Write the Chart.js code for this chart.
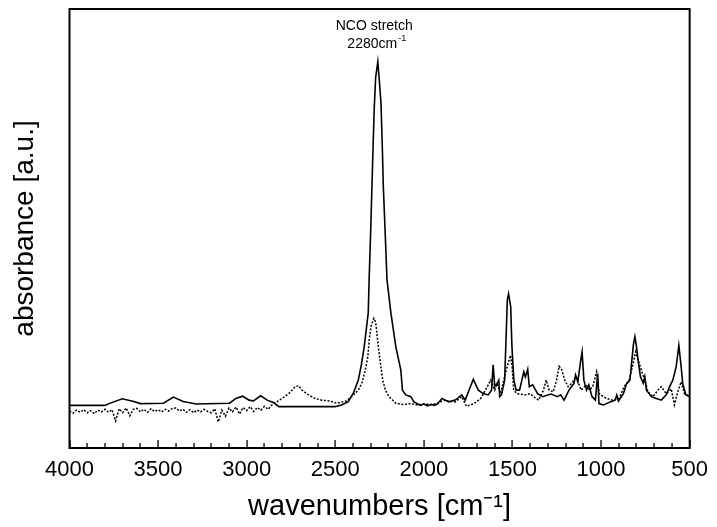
<!DOCTYPE html>
<html>
<head>
<meta charset="utf-8">
<script src="https://cdn.jsdelivr.net/npm/chart.js@4"></script>
<style>
	html, body { margin: 0; padding: 0; background: #fff; }
	#wrap { width: 717px; height: 527px; }
</style>
</head>
<body>
<div id="wrap"><canvas id="ir-chart" width="717" height="527"></canvas></div>
<script>
// wavenumber tick labels on the bottom axis
const majorTicks = [4000, 3500, 3000, 2500, 2000, 1500, 1000, 500];
const minorStep = 100;

// solid trace
const solidWn = [
	4000, 3800, 3777, 3702, 3637, 3600, 3470, 3414, 3358, 3286,
	3097, 3061, 3023, 2986, 2962, 2921, 2884, 2846, 2818, 2502,
	2465, 2428, 2398, 2370, 2353, 2337, 2314, 2309, 2300, 2292,
	2286, 2280, 2272, 2260, 2251, 2242, 2234, 2229, 2219, 2208,
	2186, 2158, 2130, 2121, 2102, 2074, 2056, 2037, 2020, 2000,
	1980, 1960, 1940, 1925, 1897, 1860, 1823, 1786, 1767, 1721,
	1693, 1665, 1637, 1618, 1609, 1600, 1589, 1577, 1572, 1562,
	1544, 1529, 1522, 1510, 1503, 1492, 1479, 1460, 1436, 1427,
	1414, 1405, 1386, 1358, 1330, 1283, 1246, 1228, 1209, 1181,
	1153, 1144, 1131, 1116, 1107, 1097, 1082, 1069, 1051, 1032,
	1019, 1012, 986, 948, 921, 911, 902, 874, 856, 837,
	818, 809, 800, 791, 778, 762, 753, 744, 716, 688,
	660, 632, 613, 595, 576, 561, 548, 539, 521, 502
];
const solidAbs = [
	9.6, 9.6, 10.0, 11.1, 10.5, 10.0, 10.1, 11.5, 10.5, 9.9,
	10.1, 11.2, 11.7, 10.8, 10.6, 11.8, 10.8, 10.2, 9.3, 9.3,
	9.7, 10.4, 12.4, 15.4, 18.9, 23.0, 30.8, 38.4, 49.9, 61.4,
	70.0, 78.0, 85.0, 88.6, 84.0, 79.0, 68.3, 60.0, 49.9, 38.4,
	30.8, 23.0, 17.7, 13.1, 12.0, 11.6, 10.4, 10.0, 9.6, 9.9,
	9.5, 9.8, 9.6, 9.9, 11.2, 10.4, 10.8, 12.0, 10.8, 15.6,
	13.1, 12.3, 12.0, 13.1, 18.9, 13.9, 14.5, 15.4, 11.6, 12.0,
	15.4, 33.8, 35.2, 32.3, 23.1, 15.4, 13.1, 13.1, 17.3, 16.1,
	17.9, 13.9, 14.3, 12.3, 11.6, 12.2, 11.6, 12.0, 10.8, 13.1,
	14.6, 16.6, 15.0, 19.6, 21.9, 15.4, 13.1, 14.3, 11.6, 10.8,
	16.9, 10.0, 9.7, 10.4, 10.8, 12.0, 10.6, 12.3, 14.6, 15.4,
	23.4, 25.4, 23.1, 20.0, 16.2, 14.7, 16.2, 13.1, 11.6, 11.2,
	10.8, 12.0, 13.9, 15.4, 18.5, 23.4, 18.5, 14.6, 12.0, 11.6
];

// dotted trace
const dottedWn = [
	4000, 3980, 3960, 3940, 3920, 3900, 3880, 3860, 3840, 3820,
	3800, 3780, 3760, 3740, 3720, 3700, 3680, 3660, 3640, 3620,
	3600, 3580, 3560, 3540, 3520, 3500, 3480, 3460, 3440, 3420,
	3400, 3380, 3360, 3340, 3320, 3300, 3280, 3260, 3240, 3220,
	3200, 3180, 3160, 3140, 3120, 3100, 3080, 3060, 3040, 3020,
	3000, 2980, 2960, 2940, 2920, 2900, 2880, 2860, 2846, 2800,
	2762, 2726, 2707, 2688, 2651, 2614, 2577, 2530, 2493, 2437,
	2398, 2370, 2348, 2331, 2316, 2309, 2297, 2282, 2272, 2264,
	2257, 2244, 2232, 2217, 2197, 2158, 2120, 2074, 2037, 2000,
	1960, 1925, 1888, 1850, 1823, 1786, 1760, 1716, 1679, 1642,
	1623, 1600, 1586, 1567, 1549, 1530, 1511, 1502, 1493, 1474,
	1428, 1400, 1381, 1353, 1325, 1310, 1293, 1270, 1251, 1237,
	1223, 1205, 1186, 1167, 1140, 1112, 1084, 1065, 1047, 1025,
	1010, 972, 935, 898, 870, 842, 823, 805, 790, 770,
	753, 735, 707, 679, 660, 632, 604, 586, 567, 548,
	530, 511, 500
];
const dottedAbs = [
	8.3, 7.8, 8.5, 8.0, 8.6, 7.9, 8.4, 7.7, 8.5, 8.1,
	8.7, 8.0, 8.6, 6.0, 8.8, 7.9, 9.0, 7.2, 8.7, 8.9,
	8.1, 8.7, 8.0, 8.8, 8.2, 8.6, 8.1, 8.7, 8.3, 8.9,
	9.0, 8.3, 8.7, 8.0, 8.6, 7.9, 8.5, 8.1, 8.7, 8.2,
	7.9, 8.8, 5.8, 8.5, 7.1, 9.0, 8.1, 9.2, 7.6, 9.1,
	8.4, 9.3, 8.2, 9.1, 8.5, 9.4, 8.7, 9.6, 10.0, 11.2,
	12.3, 13.9, 14.1, 13.1, 12.0, 11.2, 10.8, 10.6, 10.1, 10.6,
	12.0, 13.1, 14.9, 17.7, 20.8, 24.6, 28.0, 29.6, 28.7, 25.7,
	23.1, 18.9, 15.4, 13.1, 11.6, 10.1, 9.8, 10.0, 9.7, 9.9,
	9.8, 10.0, 10.8, 10.5, 10.4, 11.6, 9.4, 10.0, 11.2, 13.9,
	15.4, 13.1, 14.6, 12.3, 15.4, 18.5, 21.1, 18.5, 13.1, 12.3,
	12.0, 12.3, 11.6, 10.8, 13.1, 15.4, 13.1, 12.7, 15.4, 18.6,
	17.9, 15.4, 13.9, 14.6, 16.2, 13.1, 14.3, 13.1, 13.9, 17.3,
	12.3, 11.2, 10.8, 11.2, 13.9, 15.4, 18.5, 21.9, 20.0, 17.3,
	15.4, 12.7, 11.6, 13.1, 13.9, 12.3, 13.4, 9.7, 12.7, 15.0,
	12.3, 11.9, 11.8
];

const toPoints = (xs, ys) => xs.map((x, i) => ({ x: x, y: ys[i] }));

const fontFamily = "'Liberation Sans', Arial, sans-serif";

// inward ticks, frame and the peak label
const framePlugin = {
	id: "frame",
	afterDraw(chart) {
		const ctx = chart.ctx;
		const area = chart.chartArea;
		const x = chart.scales.x;
		ctx.save();
		ctx.setLineDash([]);
		ctx.globalAlpha = 1;
		ctx.fillStyle = "#000";
		ctx.strokeStyle = "#000";
		for (let wn = 500; wn <= 4000; wn += minorStep) {
			const px = Math.round(x.getPixelForValue(wn));
			const len = majorTicks.includes(wn) ? 8 : 5;
			ctx.fillRect(px - 0.6, area.bottom - len, 1.3, len);
		}
		ctx.lineWidth = 2;
		ctx.strokeRect(area.left, area.top, area.right - area.left, area.bottom - area.top);

		const cx = x.getPixelForValue(2280);
		ctx.textBaseline = "alphabetic";
		ctx.textAlign = "center";
		ctx.font = "14px " + fontFamily;
		ctx.fillText("NCO stretch", cx, area.top + 21);
		const main = "2280cm";
		const w1 = ctx.measureText(main).width;
		ctx.font = "9px " + fontFamily;
		const w2 = ctx.measureText("-1").width;
		const start = cx - (w1 + w2) / 2 + 2;
		ctx.textAlign = "left";
		ctx.font = "14px " + fontFamily;
		ctx.fillText(main, start, area.top + 39);
		ctx.font = "9px " + fontFamily;
		ctx.fillText("-1", start + w1 + 1, area.top + 32);
		ctx.restore();
	}
};

const irData = {
	datasets: [
		{
			label: "solid",
			data: toPoints(solidWn, solidAbs),
			borderColor: "#000",
			borderWidth: 1.6,
			pointRadius: 0,
			tension: 0
		},
		{
			label: "dotted",
			data: toPoints(dottedWn, dottedAbs),
			borderColor: "#000",
			borderWidth: 1.5,
			borderDash: [2, 1.6],
			pointRadius: 0,
			tension: 0
		}
	]
};

const irOptions = {
	responsive: false,
	animation: false,
	layout: {
		padding: { top: 9, right: 18, left: 0, bottom: 0 }
	},
	plugins: {
		legend: { display: false },
		tooltip: { enabled: false }
	},
	scales: {
		x: {
			type: "linear",
			reverse: true,
			min: 500,
			max: 4000,
			border: { display: false },
			grid: { display: false, drawTicks: false },
			afterFit(scale) { scale.height = 79; },
			ticks: {
				stepSize: 500,
				autoSkip: false,
				maxRotation: 0,
				padding: 9,
				color: "#000",
				font: { family: fontFamily, size: 22 },
				callback: (v) => (majorTicks.includes(v) ? String(v) : "")
			},
			title: {
				display: true,
				text: "wavenumbers [cm\u207B\u00B9]",
				color: "#000",
				font: { family: fontFamily, size: 29 },
				padding: { top: 0, bottom: 3 }
			}
		},
		y: {
			min: -0.2,
			max: 100.7,
			border: { display: false },
			grid: { display: false, drawTicks: false },
			ticks: { display: false },
			afterFit(scale) { scale.width = 69.5; },
			title: {
				display: true,
				text: "absorbance [a.u.]",
				color: "#000",
				font: { family: fontFamily, size: 28 },
				padding: { top: 8, bottom: 0 }
			}
		}
	}
};

const irContext = document.getElementById("ir-chart").getContext("2d");
const irChart = new Chart(irContext, {
	type: "line",
	data: irData,
	options: irOptions,
	plugins: [framePlugin]
});
</script>
</body>
</html>
